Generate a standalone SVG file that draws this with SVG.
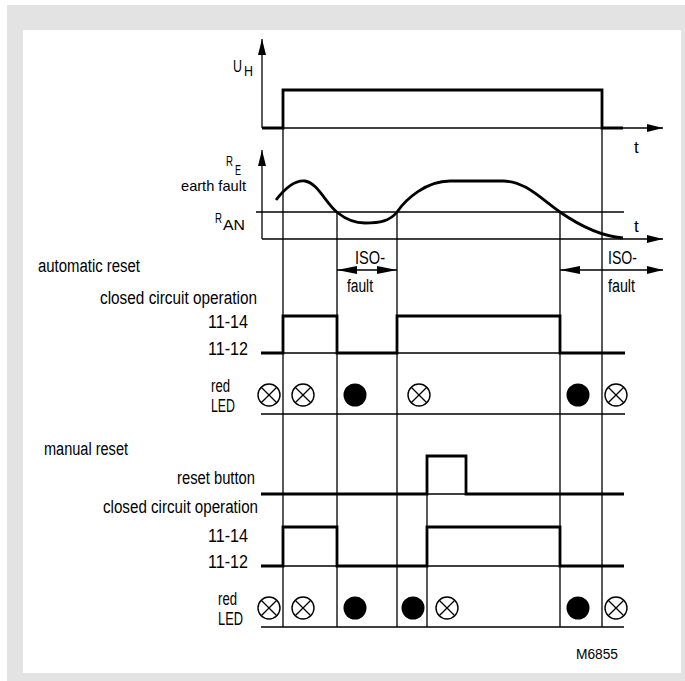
<svg xmlns="http://www.w3.org/2000/svg" width="685" height="681" viewBox="0 0 685 681">
<style>
text{font-family:"Liberation Sans","Noto Sans",sans-serif;fill:#000;}
.lb{font-size:18px;}
.sm{font-size:15px;}
.thin{stroke:#000;stroke-width:1.3;fill:none;}
.thick{stroke:#000;stroke-width:2.8;fill:none;stroke-linejoin:miter;}
.led{stroke:#000;stroke-width:1.4;fill:#fff;}
.on{fill:#000;}
</style>
<defs>
<marker id="ah" viewBox="0 0 16 8" refX="16" refY="4" markerWidth="16" markerHeight="8" markerUnits="userSpaceOnUse" orient="auto-start-reverse"><path d="M0,0 L16,4 L0,8 z" fill="#000"/></marker>
<marker id="ah2" viewBox="0 0 20 8" refX="20" refY="4" markerWidth="20" markerHeight="8" markerUnits="userSpaceOnUse" orient="auto-start-reverse"><path d="M0,0 L20,4 L0,8 z" fill="#000"/></marker>
<g id="x"><circle r="11" class="led"/><path d="M-7.8,-7.8 L7.8,7.8 M-7.8,7.8 L7.8,-7.8" stroke="#000" stroke-width="1.3"/></g>
</defs>
<rect x="7" y="5" width="678" height="676" fill="#e3e3e3"/>
<rect x="23" y="30" width="658" height="643" fill="#fff"/>

<g id="connectors">
<line x1="262" y1="128" x2="262" y2="39" class="thin" marker-end="url(#ah)"/>
<line x1="262" y1="128" x2="663" y2="128" class="thin" marker-end="url(#ah)"/>
<line x1="262" y1="239" x2="262" y2="150" class="thin" marker-end="url(#ah)"/>
<line x1="262" y1="239" x2="663" y2="239" class="thin" marker-end="url(#ah)"/>
<line x1="256" y1="212" x2="624" y2="212" class="thin"/>
<path class="thin" d="M283,90 V627 M602,90 V627 M337,212 V627 M397,212 V627 M560,212 V627 M427,456 V627"/>
<line x1="337" y1="270" x2="397" y2="270" class="thin" marker-start="url(#ah2)" marker-end="url(#ah2)"/>
<line x1="560" y1="270" x2="663" y2="270" class="thin" marker-start="url(#ah2)" marker-end="url(#ah)"/>
<path class="thin" d="M261,353 H625 M261,414 H625 M261,494 H624 M261,566 H624 M261,627 H624"/>
<path class="thick" d="M262,128 H283 V90 H602 V128 H623"/>
<path class="thick" stroke-width="2.5" d="M276,200 C286,187 296,180 305,181 C318,183 326,204 338,213 C348,221 356,223 365,223 C380,223 390,221 397,212 C406,199 426,181 450,181 L503,181 C525,181 540,198 560,212 C580,226 600,236 623,238"/>
<path class="thick" d="M261,353 H283 V316 H337 V353 H397 V316 H560 V353 H625"/>
<path class="thick" d="M261,494 H427 V456 H466 V494 H624"/>
<path class="thick" d="M261,566 H283 V527 H337 V566 H427 V527 H560 V566 H624"/>
</g>

<g id="leds-auto">
<use href="#x" x="269" y="395"/>
<use href="#x" x="303" y="395"/>
<circle cx="355" cy="395" r="11.5" class="on"/>
<use href="#x" x="419" y="395"/>
<circle cx="578" cy="395" r="11.5" class="on"/>
<use href="#x" x="616" y="395"/>
</g>
<g id="leds-manual">
<use href="#x" x="269" y="608"/>
<use href="#x" x="303" y="608"/>
<circle cx="355" cy="608" r="11.5" class="on"/>
<circle cx="413" cy="608" r="11.5" class="on"/>
<use href="#x" x="447" y="608"/>
<circle cx="578" cy="608" r="11.5" class="on"/>
<use href="#x" x="616" y="608"/>
</g>

<g id="labels">
<text x="233" y="72" font-size="17"><tspan textLength="9" lengthAdjust="spacingAndGlyphs">U</tspan><tspan x="244" y="76" font-size="14" textLength="9" lengthAdjust="spacingAndGlyphs">H</tspan></text>
<text x="634" y="153" font-size="17">t</text>
<text x="226" y="166" class="sm"><tspan textLength="7" lengthAdjust="spacingAndGlyphs">R</tspan><tspan x="235" y="175" textLength="6" lengthAdjust="spacingAndGlyphs">E</tspan></text>
<text x="181" y="191" class="sm" textLength="65" lengthAdjust="spacingAndGlyphs">earth fault</text>
<text x="215" y="223" class="sm"><tspan textLength="7" lengthAdjust="spacingAndGlyphs">R</tspan><tspan x="223" y="230" textLength="22" lengthAdjust="spacingAndGlyphs">AN</tspan></text>
<text x="634" y="232" font-size="17">t</text>
<text x="355" y="264" class="lb" textLength="30" lengthAdjust="spacingAndGlyphs">ISO-</text>
<text x="347" y="292" class="lb" textLength="26" lengthAdjust="spacingAndGlyphs">fault</text>
<text x="608" y="264" class="lb" textLength="29" lengthAdjust="spacingAndGlyphs">ISO-</text>
<text x="608" y="292" class="lb" textLength="27" lengthAdjust="spacingAndGlyphs">fault</text>

<text x="38" y="272" class="lb" textLength="102" lengthAdjust="spacingAndGlyphs">automatic reset</text>
<text x="100" y="304" class="lb" textLength="157" lengthAdjust="spacingAndGlyphs">closed circuit operation</text>
<text x="208" y="328" class="lb" textLength="40" lengthAdjust="spacingAndGlyphs">11-14</text>
<text x="208" y="355" class="lb" textLength="40" lengthAdjust="spacingAndGlyphs">11-12</text>
<text x="211" y="392" class="lb" textLength="19" lengthAdjust="spacingAndGlyphs">red</text>
<text x="211" y="412" class="lb" textLength="24" lengthAdjust="spacingAndGlyphs">LED</text>

<text x="44" y="455" class="lb" textLength="84" lengthAdjust="spacingAndGlyphs">manual reset</text>
<text x="177" y="484" class="lb" textLength="78" lengthAdjust="spacingAndGlyphs">reset button</text>
<text x="103" y="513" class="lb" textLength="155" lengthAdjust="spacingAndGlyphs">closed circuit operation</text>
<text x="208" y="542" class="lb" textLength="40" lengthAdjust="spacingAndGlyphs">11-14</text>
<text x="208" y="568" class="lb" textLength="40" lengthAdjust="spacingAndGlyphs">11-12</text>
<text x="218" y="605" class="lb" textLength="19" lengthAdjust="spacingAndGlyphs">red</text>
<text x="218" y="625" class="lb" textLength="25" lengthAdjust="spacingAndGlyphs">LED</text>
<text x="576" y="659" font-size="15" textLength="42" lengthAdjust="spacingAndGlyphs">M6855</text>
</g>
</svg>
